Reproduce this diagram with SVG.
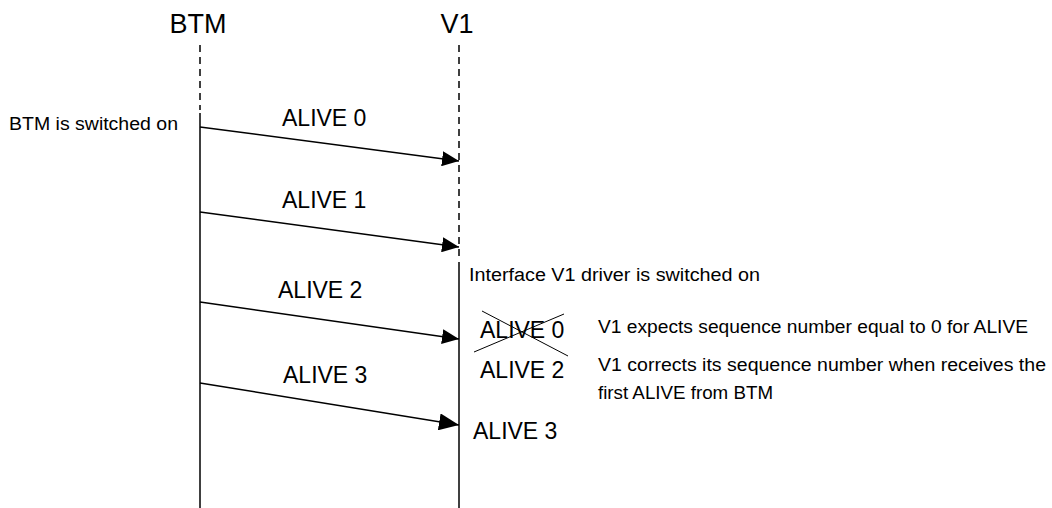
<svg xmlns="http://www.w3.org/2000/svg" width="1052" height="508" viewBox="0 0 1052 508">
<defs>
<style>
text{font-family:"Liberation Sans",Arial,sans-serif;fill:#000}
.big{font-size:27px}
.lbl{font-size:23px}
.note{font-size:18px}
.life{stroke:#000;stroke-width:1.5;fill:none}
.dash{stroke-dasharray:7,5}
.msg{stroke:#000;stroke-width:1.5;fill:none;marker-end:url(#ah)}
.msg.big-head{marker-end:url(#ah2)}
.cross{stroke:#000;stroke-width:1;fill:none}
</style>
<marker id="ah" viewBox="0 0 17 15" refX="17" refY="7.5" markerWidth="17" markerHeight="15" markerUnits="userSpaceOnUse" orient="auto">
<path d="M0,0 L17,7.5 L0,15 Z" fill="#000"/>
</marker>
<marker id="ah2" viewBox="0 0 20 17" refX="20" refY="8.5" markerWidth="20" markerHeight="17" markerUnits="userSpaceOnUse" orient="auto">
<path d="M0,0 L20,8.5 L0,17 Z" fill="#000"/>
</marker>
</defs>
<rect width="1052" height="508" fill="#fff"/>
<g id="btm">
<text class="big" x="198" y="33" text-anchor="middle">BTM</text>
<line class="life dash" x1="200" y1="45" x2="200" y2="110"/>
<line class="life" x1="200" y1="113" x2="200" y2="508"/>
<text class="note" x="9" y="130" textLength="169" lengthAdjust="spacingAndGlyphs">BTM is switched on</text>
</g>
<g id="v1">
<text class="big" x="457" y="33" text-anchor="middle">V1</text>
<line class="life dash" x1="459" y1="45" x2="459" y2="258"/>
<line class="life" x1="459" y1="262" x2="459" y2="508"/>
<text class="note" x="469" y="281" textLength="291" lengthAdjust="spacingAndGlyphs">Interface V1 driver is switched on</text>
</g>
<g id="connectors">
<line class="msg" x1="200" y1="127" x2="459" y2="161"/>
<line class="msg" x1="200" y1="212" x2="459" y2="247"/>
<line class="msg" x1="200" y1="302" x2="459" y2="339"/>
<line class="msg big-head" x1="200" y1="383" x2="459" y2="425"/>
</g>
<g id="labels">
<text class="lbl" x="282" y="126">ALIVE 0</text>
<text class="lbl" x="282" y="208">ALIVE 1</text>
<text class="lbl" x="278" y="298">ALIVE 2</text>
<text class="lbl" x="283" y="383">ALIVE 3</text>
</g>
<g id="v1-states">
<text class="lbl" x="480" y="338">ALIVE 0</text>
<line class="cross" x1="482" y1="311" x2="568" y2="356"/>
<line class="cross" x1="474" y1="352" x2="564" y2="314"/>
<text class="lbl" x="480" y="378">ALIVE 2</text>
<text class="lbl" x="473" y="439">ALIVE 3</text>
</g>
<g id="notes">
<text class="note" x="598" y="333" textLength="430" lengthAdjust="spacingAndGlyphs">V1 expects sequence number equal to 0 for ALIVE</text>
<text class="note" x="598" y="371" textLength="448" lengthAdjust="spacingAndGlyphs">V1 corrects its sequence number when receives the</text>
<text class="note" x="598" y="399" textLength="175" lengthAdjust="spacingAndGlyphs">first ALIVE from BTM</text>
</g>
</svg>
